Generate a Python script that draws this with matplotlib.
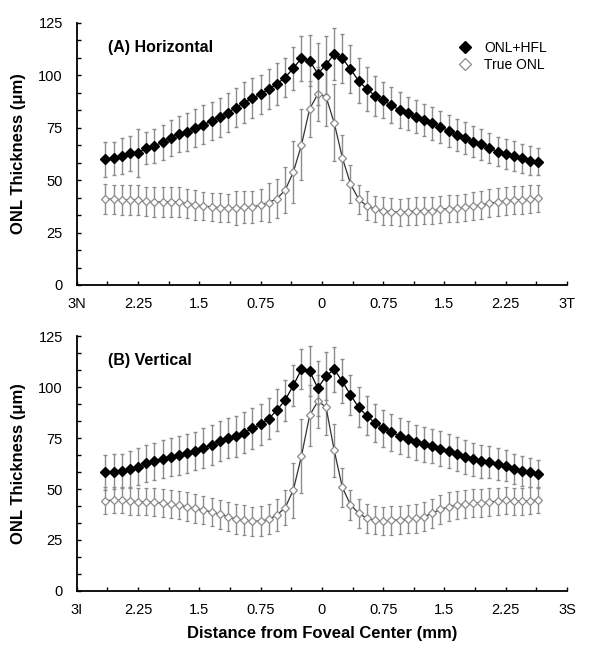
import numpy as np
import matplotlib.pyplot as plt
from matplotlib.lines import Line2D
from matplotlib.ticker import MultipleLocator

plt.rcParams['font.family'] = ['Liberation Sans', 'DejaVu Sans']

# eccentricity (mm), 54 sample positions, 0.1 mm apart
x = [-2.65, -2.55, -2.45, -2.35, -2.25, -2.15, -2.05, -1.95, -1.85, -1.75,
     -1.65, -1.55, -1.45, -1.35, -1.25, -1.15, -1.05, -0.95, -0.85, -0.75,
     -0.65, -0.55, -0.45, -0.35, -0.25, -0.15, -0.05, 0.05, 0.15, 0.25,
     0.35, 0.45, 0.55, 0.65, 0.75, 0.85, 0.95, 1.05, 1.15, 1.25,
     1.35, 1.45, 1.55, 1.65, 1.75, 1.85, 1.95, 2.05, 2.15, 2.25,
     2.35, 2.45, 2.55, 2.65]

# (A) horizontal
h_hfl = [60.0, 60.4, 61.5, 62.8, 63.1, 65.2, 66.3, 68.1, 70.3, 72.0,
         73.1, 74.9, 76.5, 78.2, 80.0, 82.2, 84.6, 87.0, 89.1, 91.0,
         93.4, 95.9, 98.9, 103.4, 108.1, 106.9, 100.7, 105.0, 110.1, 108.1,
         102.9, 97.3, 93.4, 90.3, 88.1, 85.7, 83.5, 81.9, 80.3, 78.7,
         77.1, 75.5, 73.5, 71.6, 70.0, 68.4, 67.1, 65.2, 63.6, 62.4,
         61.5, 60.4, 59.2, 58.8]
h_hfl_sd = [8.4, 8.0, 8.4, 8.4, 11.5, 7.6, 8.1, 8.4, 8.6, 8.8,
            9.0, 9.0, 9.2, 9.2, 9.3, 9.4, 9.5, 9.6, 9.4, 9.3,
            9.5, 9.9, 9.3, 10.2, 10.7, 12.1, 14.9, 13.9, 12.5, 11.8,
            11.5, 10.7, 10.6, 9.5, 8.6, 8.6, 8.7, 7.8, 8.0, 7.8,
            7.8, 7.6, 7.6, 7.5, 7.5, 7.4, 7.4, 7.2, 7.0, 7.0,
            7.0, 6.9, 6.9, 6.4]
h_onl = [41.0, 40.9, 40.6, 40.5, 40.5, 39.9, 39.6, 39.6, 39.7, 39.4,
         38.8, 38.2, 37.7, 37.2, 36.9, 36.6, 36.6, 37.1, 37.1, 38.2,
         39.3, 41.2, 45.2, 53.8, 66.8, 84.0, 91.0, 89.8, 77.4, 60.7,
         48.2, 40.9, 37.7, 36.1, 35.3, 35.0, 34.7, 35.0, 35.3, 35.5,
         35.5, 36.1, 36.4, 36.6, 37.1, 37.7, 38.2, 39.0, 39.5, 40.1,
         40.6, 40.6, 40.9, 41.4]
h_onl_sd = [7.2, 7.0, 7.0, 7.0, 7.0, 7.0, 7.0, 7.2, 7.2, 7.2,
            7.0, 7.0, 6.8, 6.8, 6.8, 6.8, 8.0, 7.6, 7.6, 7.6,
            9.1, 9.3, 11.1, 14.7, 16.9, 13.5, 13.0, 14.0, 18.5, 10.6,
            9.0, 6.9, 6.9, 6.2, 6.5, 6.5, 6.5, 6.5, 6.5, 6.5,
            6.5, 6.5, 6.5, 6.5, 6.5, 6.6, 6.6, 6.6, 6.6, 6.6,
            6.6, 6.6, 6.6, 6.4]

# (B) vertical
v_hfl = [58.2, 58.5, 58.8, 59.8, 60.9, 62.6, 63.6, 64.6, 65.7, 66.5,
         67.5, 68.6, 70.1, 71.7, 73.4, 74.8, 75.8, 77.7, 79.7, 81.7,
         84.5, 88.7, 93.6, 100.8, 108.7, 107.8, 99.5, 105.4, 108.7, 102.8,
         96.2, 90.0, 85.9, 82.4, 79.8, 77.8, 76.1, 74.6, 72.9, 71.9,
         71.1, 69.8, 68.5, 67.2, 65.8, 64.6, 63.6, 63.2, 62.4, 61.3,
         59.8, 58.8, 58.2, 57.2]
v_hfl_sd = [8.7, 8.5, 8.5, 8.7, 9.0, 9.2, 9.0, 9.3, 9.5, 9.5,
            9.5, 9.5, 9.7, 9.7, 9.8, 9.8, 10.0, 10.0, 10.2, 10.0,
            10.0, 10.2, 10.0, 10.0, 9.8, 12.3, 13.5, 11.7, 10.9, 10.8,
            9.8, 9.8, 9.5, 9.3, 9.0, 9.0, 8.8, 8.8, 8.6, 8.6,
            8.5, 8.5, 8.3, 8.3, 8.2, 8.0, 8.0, 7.8, 7.8, 7.6,
            7.5, 7.4, 7.2, 6.9]
v_onl = [44.3, 44.5, 44.5, 44.1, 43.8, 43.8, 43.5, 43.1, 42.6, 42.0,
         41.3, 40.5, 39.7, 38.7, 37.6, 36.4, 35.3, 34.8, 34.2, 34.3,
         35.1, 37.3, 40.8, 49.5, 66.2, 86.1, 93.0, 90.3, 69.1, 50.8,
         42.3, 38.1, 35.6, 34.7, 34.3, 34.6, 34.9, 35.3, 35.6, 36.4,
         38.1, 40.0, 41.3, 42.2, 42.6, 43.0, 43.3, 43.6, 44.1, 44.5,
         44.1, 44.1, 44.3, 44.6]
v_onl_sd = [6.5, 6.5, 6.5, 6.6, 6.6, 6.6, 6.8, 6.8, 6.8, 6.8,
            7.0, 7.0, 7.0, 7.0, 7.0, 7.0, 7.2, 7.2, 7.2, 7.2,
            7.4, 7.8, 8.5, 13.5, 18.0, 15.0, 13.0, 14.0, 13.0, 9.4,
            7.4, 7.0, 7.0, 7.0, 7.0, 7.0, 7.0, 7.0, 7.0, 7.0,
            7.0, 7.0, 7.0, 7.0, 6.8, 6.8, 6.8, 6.8, 6.6, 6.6,
            6.6, 6.6, 6.5, 6.4]

tick_pos = [-3, -2.25, -1.5, -0.75, 0, 0.75, 1.5, 2.25, 3]
h_ticks = ['3N', '2.25', '1.5', '0.75', '0', '0.75', '1.5', '2.25', '3T']
v_ticks = ['3I', '2.25', '1.5', '0.75', '0', '0.75', '1.5', '2.25', '3S']

panels = [
    ('(A) Horizontal', h_hfl, h_hfl_sd, h_onl, h_onl_sd, h_ticks, [0.128, 0.5695, 0.817, 0.396]),
    ('(B) Vertical', v_hfl, v_hfl_sd, v_onl, v_onl_sd, v_ticks, [0.128, 0.1073, 0.817, 0.385]),
]

fig = plt.figure(figsize=(6, 6.62), dpi=100)

for title, hfl, hfl_sd, onl, onl_sd, labels, rect in panels:
    ax = fig.add_axes(rect)

    # true ONL first so the filled series sits on top
    eb = ax.errorbar(x, onl, yerr=onl_sd, fmt='-', color='#333333', lw=0.9,
                     marker='D', ms=4.5, mfc='white', mec='#8a8a8a', mew=0.9,
                     ecolor='#8c8c8c', elinewidth=1.0, capsize=1.6, capthick=1.0, zorder=2)
    for c in eb[1]:
        c.set_color('#222222')

    eb = ax.errorbar(x, hfl, yerr=hfl_sd, fmt='-', color='black', lw=0.9,
                     marker='D', ms=5.0, mfc='black', mec='black',
                     ecolor='#8c8c8c', elinewidth=1.0, capsize=1.6, capthick=1.0, zorder=3)
    for c in eb[1]:
        c.set_color('#222222')

    ax.set_xlim(-3, 3)
    ax.set_ylim(0, 125)
    ax.spines['top'].set_visible(False)
    ax.spines['right'].set_visible(False)
    ax.spines['left'].set_linewidth(1.3)
    ax.spines['bottom'].set_linewidth(1.3)

    ax.set_xticks(tick_pos)
    ax.set_xticklabels(labels)
    ax.xaxis.set_minor_locator(MultipleLocator(0.375))
    ax.set_yticks([0, 25, 50, 75, 100, 125])
    ax.yaxis.set_minor_locator(MultipleLocator(25 / 3))
    ax.tick_params(which='both', direction='in', length=3, width=1.0, labelsize=10.5)
    ax.tick_params(axis='x', pad=9)
    ax.tick_params(axis='y', pad=10)

    ax.set_ylabel('ONL Thickness (μm)', fontsize=12, fontweight='bold', labelpad=9)
    ax.text(0.063, 0.905, title, transform=ax.transAxes, fontsize=11.5,
            fontweight='bold', va='center', ha='left')

    if title.startswith('(A)'):
        handles = [
            Line2D([], [], ls='none', marker='D', ms=6, mfc='black', mec='black'),
            Line2D([], [], ls='none', marker='D', ms=6, mfc='white', mec='#8a8a8a', mew=0.9),
        ]
        ax.legend(handles, ['ONL+HFL', 'True ONL'], loc='upper right',
                  bbox_to_anchor=(0.985, 0.98), frameon=False, fontsize=10,
                  handlelength=1.0, handletextpad=0.9, labelspacing=0.25)
    else:
        ax.set_xlabel('Distance from Foveal Center (mm)', fontsize=12,
                      fontweight='bold', labelpad=6)

fig.savefig('out.png', dpi=100)
